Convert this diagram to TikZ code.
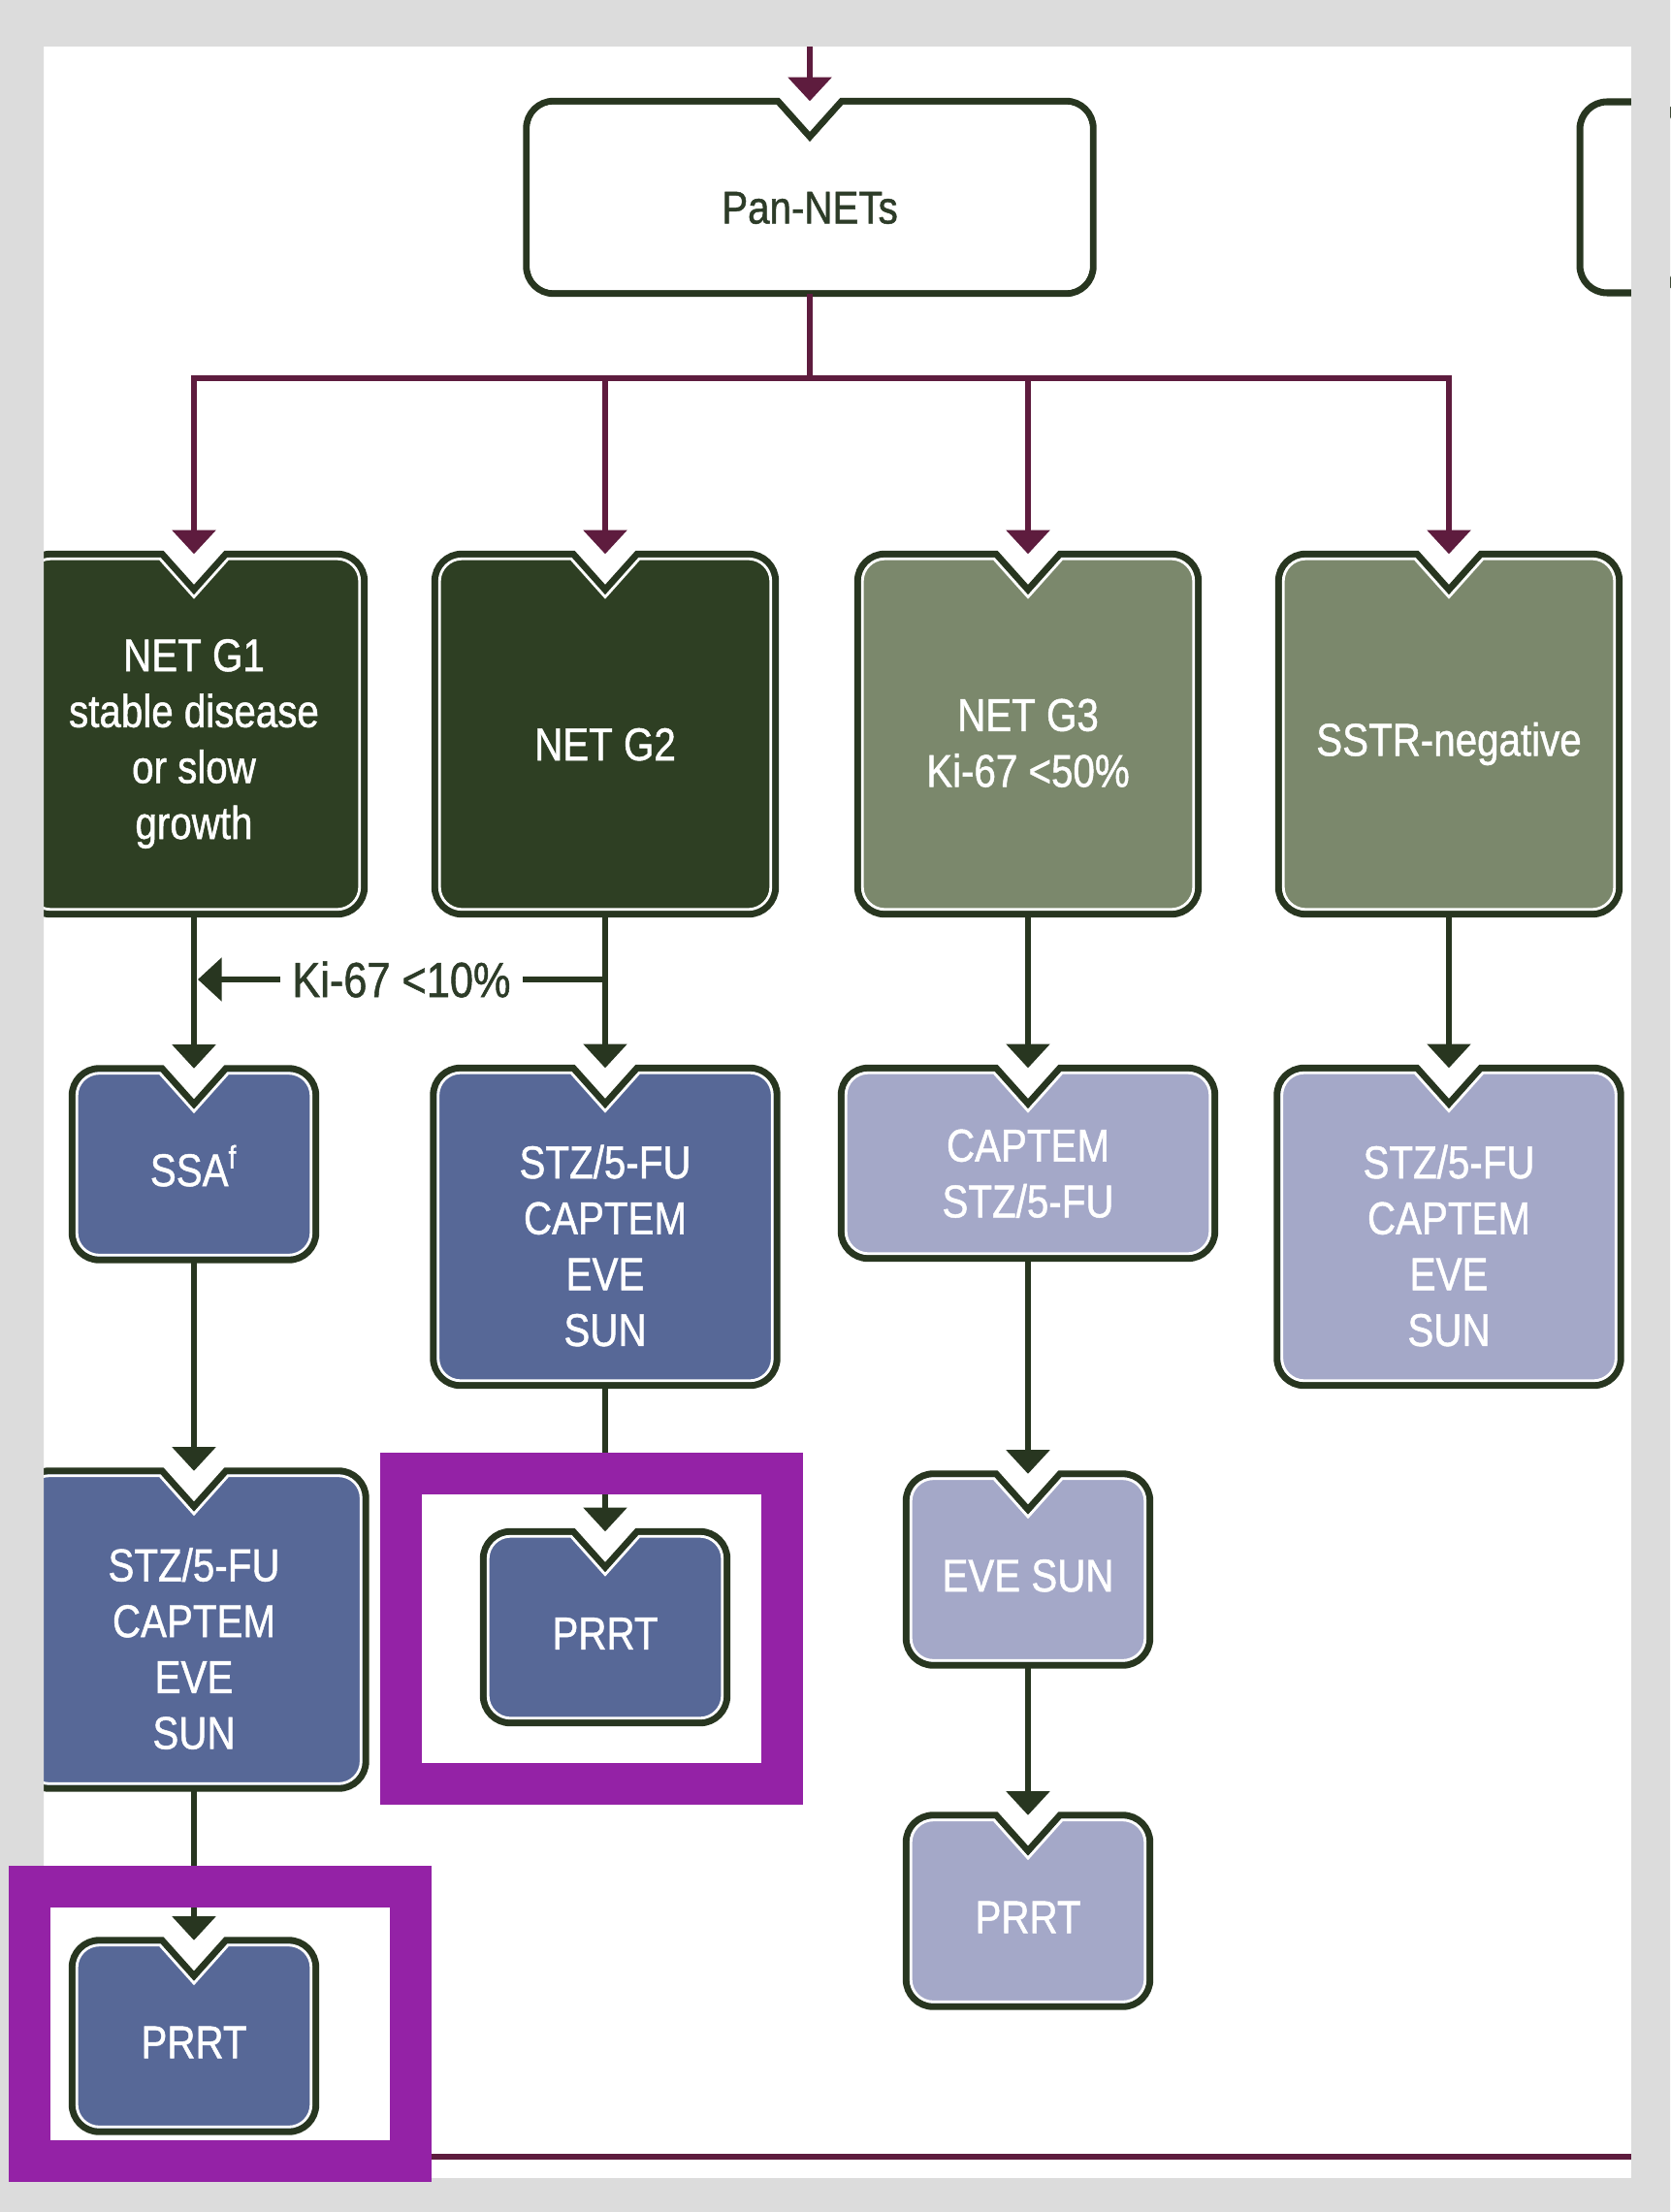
\documentclass[tikz,border=0pt]{standalone}
\usepackage{fontspec}
\setmainfont{Liberation Sans}[FakeStretch=0.85, FakeBold=1]
\usepackage{tikz}
\usetikzlibrary{arrows.meta,calc,backgrounds}

\definecolor{boxline}{RGB}{40,54,32}
\definecolor{netdark}{RGB}{46,63,35}
\definecolor{netgrey}{RGB}{123,136,108}
\definecolor{trtblue}{RGB}{87,104,151}
\definecolor{trtpale}{RGB}{164,168,200}
\definecolor{maroonline}{RGB}{94,28,62}
\definecolor{hilite}{RGB}{148,34,166}
\definecolor{framegray}{RGB}{220,220,220}
\definecolor{textgreen}{RGB}{45,60,40}

\newcommand{\boxfont}{\fontsize{13.5pt}{16.4pt}\selectfont}

\tikzset{flow/.style={draw=boxline, line width=1.6pt, -{Triangle[width=12.5pt,length=7pt]}},
	link/.style={draw=maroonline, line width=1.8pt, -{Triangle[width=12.5pt,length=7pt]}},
	hilite_frame/.style={draw=hilite, line width=4.3mm}
}
\tikzstyle{pan_node} = [minimum width=5.83cm, minimum height=1.97cm, inner sep=0pt, text height=15.5pt, text=textgreen, font=\boxfont]
\tikzstyle{net_node} = [minimum width=3.5cm, minimum height=3.7cm, inner sep=0pt, align=center, text height=15.5pt, text=white, font=\boxfont]
\tikzstyle{tall_node} = [minimum width=3.53cm, minimum height=3.26cm, inner sep=0pt, align=center, text height=70.1pt, text=white, font=\boxfont]
\tikzstyle{wide_node} = [minimum width=3.84cm, minimum height=1.95cm, inner sep=0pt, align=center, text height=31.9pt, text=white, font=\boxfont]
\tikzstyle{small_node} = [minimum width=2.5cm, minimum height=1.96cm, inner sep=0pt, align=center, text height=13pt, text=white, font=\boxfont]

% rounded box with the notch on top and a thin white rim inside
\newcommand{\notchbox}[2]{%
	\draw[draw=boxline, line width=2pt, fill=#2]
		($(#1.north west)+(0,-8pt)$) arc[start angle=180, end angle=90, radius=8pt]
		-- ($(#1.north)+(-9.4pt,0)$) -- ($(#1.north)+(0,-10.5pt)$) -- ($(#1.north)+(9.4pt,0)$)
		-- ($(#1.north east)+(-8pt,0)$) arc[start angle=90, end angle=0, radius=8pt]
		-- ($(#1.south east)+(0,8pt)$) arc[start angle=0, end angle=-90, radius=8pt]
		-- ($(#1.south west)+(8pt,0)$) arc[start angle=-90, end angle=-180, radius=8pt]
		-- cycle;
	\draw[white, line width=0.8pt]
		($(#1.north west)+(1.4pt,-8pt)$) arc[start angle=180, end angle=90, radius=6.6pt]
		-- ($(#1.north)+(-10pt,-1.4pt)$) -- ($(#1.north)+(0,-12.6pt)$) -- ($(#1.north)+(10pt,-1.4pt)$)
		-- ($(#1.north east)+(-8pt,-1.4pt)$) arc[start angle=90, end angle=0, radius=6.6pt]
		-- ($(#1.south east)+(-1.4pt,8pt)$) arc[start angle=0, end angle=-90, radius=6.6pt]
		-- ($(#1.south west)+(8pt,1.4pt)$) arc[start angle=-90, end angle=-180, radius=6.6pt]
		-- cycle;
}

\begin{document}
\begin{tikzpicture}[node distance=1cm]
	\useasboundingbox (0,0) rectangle (17.22,-22.81);

	\node[pan_node] (pan) at (8.35,-2.035) {Pan-NETs};
	\node[draw=boxline, fill=white, line width=2pt, rounded corners=8pt, minimum width=1cm, minimum height=1.97cm, right of=pan, xshift=7.44cm] (nextbox) {};

	% grades
	\node[net_node, text height=64.3pt, below of=pan, xshift=-6.35cm, yshift=-4.535cm] (g1) {NET G1\\stable disease\\or slow\\growth};
	\node[net_node, right of=g1, xshift=3.24cm] (g2) {NET G2};
	\node[net_node, text height=31.1pt, right of=g2, xshift=3.36cm] (g3) {NET G3\\Ki-67 <50\%};
	\node[net_node, right of=g3, xshift=3.34cm] (sstr) {SSTR-negative};

	% first line
	\node[small_node, below of=g1, yshift=-3.435cm] (ssa) {SSA\textsuperscript{f}};
	\node[tall_node, below of=g2, yshift=-4.08cm] (g2trt) {STZ/5-FU\\CAPTEM\\EVE\\SUN};
	\node[wide_node, below of=g3, yshift=-3.425cm] (g3trt) {CAPTEM\\STZ/5-FU};
	\node[tall_node, below of=sstr, yshift=-4.08cm] (sstrtrt) {STZ/5-FU\\CAPTEM\\EVE\\SUN};

	% later lines
	\node[tall_node, below of=ssa, yshift=-3.80cm] (stz1) {STZ/5-FU\\CAPTEM\\EVE\\SUN};
	\node[small_node, below of=stz1, yshift=-3.19cm] (prrt1) {PRRT};
	\node[small_node, below of=g2trt, yshift=-3.13cm] (prrt2) {PRRT};
	\node[small_node, below of=g3trt, yshift=-3.19cm] (evesun) {EVE SUN};
	\node[small_node, below of=evesun, yshift=-2.52cm] (prrt3) {PRRT};

	\begin{pgfonlayer}{background}
		\fill[white] (0,0) rectangle (17.22,-22.81);
		\foreach \n/\c in {pan/white, g1/netdark, g2/netdark, g3/netgrey, sstr/netgrey,
			ssa/trtblue, g2trt/trtblue, stz1/trtblue, prrt1/trtblue, prrt2/trtblue,
			g3trt/trtpale, sstrtrt/trtpale, evesun/trtpale, prrt3/trtpale}
			{\notchbox{\n}{\c}}
	\end{pgfonlayer}

	% maroon tree
	\coordinate (entry) at (8.35,-0.40);
	\coordinate (bus) at (8.35,-3.90);
	\draw[link] (entry) -- (pan.north);
	\draw[maroonline, line width=1.8pt] (pan.south) -- (bus);
	\foreach \n in {g1,g2,g3,sstr}
		\draw[link] (bus) -| (\n.north);

	% green arrows
	\draw[flow] (g1) -- (ssa);
	\draw[flow] (g2) -- (g2trt);
	\draw[flow] (g3) -- (g3trt);
	\draw[flow] (sstr) -- (sstrtrt);
	\draw[flow] (ssa) -- (stz1);
	\draw[flow] (stz1) -- (prrt1);
	\draw[flow] (g2trt) -- (prrt2);
	\draw[flow] (g3trt) -- (evesun);
	\draw[flow] (evesun) -- (prrt3);

	\coordinate (kiR) at (6.24,-10.10);
	\coordinate (kiL) at (2.04,-10.10);
	\draw[flow] (kiR) -- node[fill=white, inner xsep=3.5pt, inner ysep=1pt, text=textgreen, font=\fontsize{14.5pt}{16pt}\selectfont] (ki) {Ki-67 <10\%} (kiL);

	\coordinate (lineL) at (4.0,-22.24);
	\coordinate (lineR) at (16.82,-22.24);
	\draw[maroonline, line width=1.8pt] (lineL) -- (lineR);

	% page frame and highlights
	\fill[framegray, even odd rule] (0,0) rectangle (17.22,-22.81) (0.45,-0.48) rectangle (16.82,-22.46);
	\draw[hilite_frame] ($(prrt2.north west)+(-0.845,0.595)$) rectangle ($(prrt2.south east)+(0.57,-0.625)$);
	\draw[hilite_frame] ($(prrt1.north west)+(-0.435,0.555)$) rectangle ($(prrt1.south east)+(0.975,-0.305)$);
\end{tikzpicture}
\end{document}
